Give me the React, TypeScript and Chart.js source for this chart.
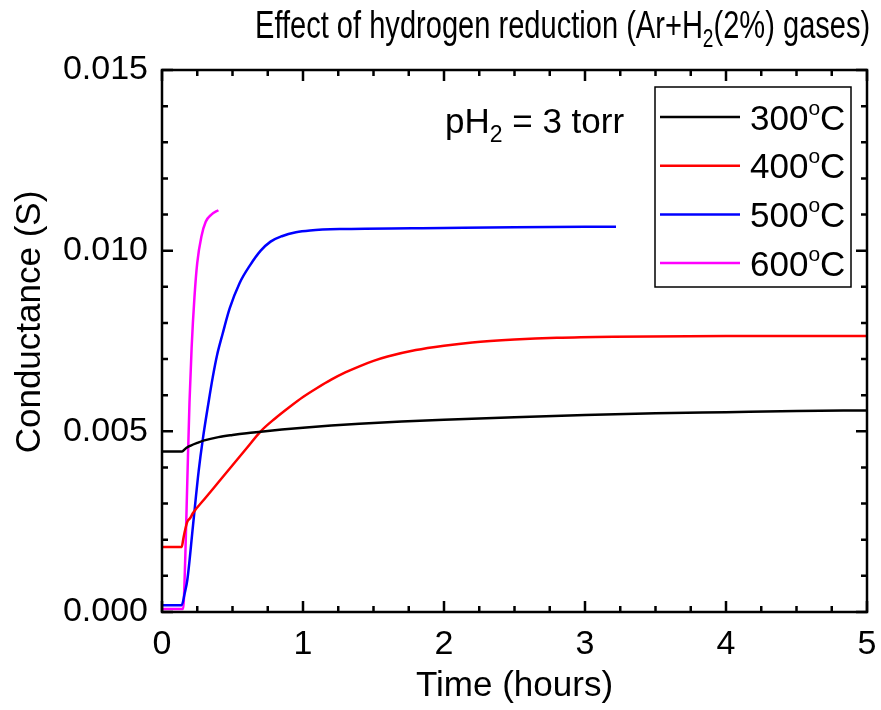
import React, { useEffect, useRef } from "react";
import { Chart, registerables } from "chart.js";

Chart.register(...registerables);

const FONT = "'Liberation Sans', Arial, Helvetica, sans-serif";

const seriesLabels = ["300", "400", "500", "600"];
const seriesColors = ["#000000", "#ff0000", "#0000ff", "#ff00ff"];

const t300 = [0, 0.14, 0.16, 0.18, 0.2, 0.25, 0.3, 0.4, 0.5, 0.6, 0.7, 0.85, 1.0, 1.2, 1.4, 1.7, 2.0, 2.5, 3.0, 3.5, 4.0, 4.5, 5.0];
const g300 = [0.00444, 0.00444, 0.0045, 0.00456, 0.0046, 0.00468, 0.00475, 0.00484, 0.0049, 0.00495, 0.00499, 0.00505, 0.0051, 0.00516, 0.00521, 0.00527, 0.00532, 0.00539, 0.00545, 0.0055, 0.00553, 0.00556, 0.00558];

const t400 = [0, 0.14, 0.15, 0.16, 0.18, 0.2, 0.22, 0.3, 0.4, 0.5, 0.6, 0.7, 0.8, 0.9, 1.0, 1.1, 1.2, 1.3, 1.4, 1.5, 1.6, 1.8, 2.0, 2.2, 2.5, 2.8, 3.2, 4.0, 5.0];
const g400 = [0.0018, 0.0018, 0.002, 0.0022, 0.0025, 0.0026, 0.00274, 0.00312, 0.00359, 0.00406, 0.00453, 0.005, 0.00535, 0.00566, 0.00595, 0.0062, 0.00643, 0.00663, 0.0068, 0.00695, 0.00707, 0.00725, 0.00737, 0.00746, 0.00754, 0.00759, 0.00762, 0.00764, 0.00764];

const t500 = [0, 0.14, 0.16, 0.18, 0.22, 0.26, 0.29, 0.33, 0.36, 0.39, 0.43, 0.48, 0.55, 0.625, 0.7, 0.77, 0.85, 0.95, 1.05, 1.3, 2.0, 2.5, 3.0, 3.22];
const g500 = [0.00019, 0.00019, 0.0005, 0.0009, 0.0024, 0.0039, 0.0048, 0.0058, 0.0065, 0.0071, 0.0077, 0.0084, 0.0091, 0.0096, 0.01, 0.01025, 0.0104, 0.01051, 0.01056, 0.0106, 0.01063, 0.01065, 0.01066, 0.01066];

const t600 = [0, 0.15, 0.165, 0.18, 0.195, 0.21, 0.23, 0.25, 0.28, 0.31, 0.35, 0.4];
const g600 = [0.00008, 0.00008, 0.0015, 0.0037, 0.0058, 0.0073, 0.0087, 0.00966, 0.0104, 0.0108, 0.011, 0.01112];

const seriesT = [t300, t400, t500, t600];
const seriesG = [g300, g400, g500, g600];

const xMin = 0, xMax = 5, xMajor = 1, xMinor = 0.25;
const yMin = 0, yMax = 0.015, yMajor = 0.005, yMinor = 0.001;

const titleMain = "Effect of hydrogen reduction (Ar+H";
const titleSub = "2";
const titleEnd = "(2%) gases)";
const noteMain = "pH";
const noteSub = "2";
const noteEnd = " = 3 torr";
const xTitle = "Time (hours)";
const yTitle = "Conductance (S)";

const decorPlugin = {
  id: "decor",
  afterDraw(chart: any) {
    const ctx = chart.ctx as CanvasRenderingContext2D;
    const a = chart.chartArea;
    const xs = chart.scales.x;
    const ys = chart.scales.y;
    ctx.save();
    ctx.strokeStyle = "#000";
    ctx.lineWidth = 2.5;
    ctx.lineCap = "butt";
    const nx = Math.round((xMax - xMin) / xMinor);
    for (let i = 0; i <= nx; i++) {
      const v = xMin + i * xMinor;
      const px = xs.getPixelForValue(v);
      const major = Math.abs(v / xMajor - Math.round(v / xMajor)) < 1e-6;
      const len = major ? 11 : 6;
      ctx.beginPath();
      ctx.moveTo(px, a.bottom);
      ctx.lineTo(px, a.bottom - len);
      ctx.moveTo(px, a.top);
      ctx.lineTo(px, a.top + len);
      ctx.stroke();
    }
    const ny = Math.round((yMax - yMin) / yMinor);
    for (let i = 0; i <= ny; i++) {
      const v = yMin + i * yMinor;
      const py = ys.getPixelForValue(v);
      const major = i % Math.round(yMajor / yMinor) === 0;
      const len = major ? 11 : 6;
      ctx.beginPath();
      ctx.moveTo(a.left, py);
      ctx.lineTo(a.left + len, py);
      ctx.moveTo(a.right, py);
      ctx.lineTo(a.right - len, py);
      ctx.stroke();
    }
    ctx.strokeRect(a.left, a.top, a.right - a.left, a.bottom - a.top);

    ctx.fillStyle = "#000";
    ctx.textBaseline = "alphabetic";
    ctx.textAlign = "left";

    // title (narrow)
    ctx.save();
    ctx.translate(255, 38);
    ctx.scale(0.765, 1);
    ctx.font = `38px ${FONT}`;
    let x = 0;
    ctx.fillText(titleMain, x, 0);
    x += ctx.measureText(titleMain).width;
    ctx.font = `25px ${FONT}`;
    ctx.fillText(titleSub, x, 9);
    x += ctx.measureText(titleSub).width;
    ctx.font = `38px ${FONT}`;
    ctx.fillText(titleEnd, x, 0);
    ctx.restore();

    // y-axis title
    ctx.save();
    ctx.translate(40, 322);
    ctx.rotate(-Math.PI / 2);
    ctx.textAlign = "center";
    ctx.font = `35px ${FONT}`;
    ctx.fillText(yTitle, 0, 0);
    ctx.restore();

    // annotation
    ctx.font = `35px ${FONT}`;
    x = 445;
    ctx.fillText(noteMain, x, 133);
    x += ctx.measureText(noteMain).width;
    ctx.font = `23px ${FONT}`;
    ctx.fillText(noteSub, x, 142);
    x += ctx.measureText(noteSub).width;
    ctx.font = `35px ${FONT}`;
    ctx.fillText(noteEnd, x, 133);

    // legend
    ctx.lineWidth = 1.5;
    ctx.strokeStyle = "#000";
    ctx.strokeRect(655, 87, 196, 200);
    for (let i = 0; i < seriesLabels.length; i++) {
      const ry = 117 + i * 48.7;
      ctx.strokeStyle = seriesColors[i];
      ctx.lineWidth = 2.5;
      ctx.beginPath();
      ctx.moveTo(660, ry);
      ctx.lineTo(740, ry);
      ctx.stroke();
      ctx.font = `35px ${FONT}`;
      let lx = 750;
      const base = ry + 12.5;
      ctx.fillText(seriesLabels[i], lx, base);
      lx += ctx.measureText(seriesLabels[i]).width;
      ctx.font = `21px ${FONT}`;
      ctx.fillText("o", lx, base - 15);
      lx += ctx.measureText("o").width;
      ctx.font = `35px ${FONT}`;
      ctx.fillText("C", lx, base);
    }
    ctx.restore();
  },
};

export default function App() {
  const ref = useRef<HTMLCanvasElement | null>(null);
  useEffect(() => {
    if (!ref.current) return;
    const datasets = seriesLabels.map((lab, i) => ({
      label: lab + "°C",
      data: seriesT[i].map((t, j) => ({ x: t, y: seriesG[i][j] })),
      borderColor: seriesColors[i],
      backgroundColor: seriesColors[i],
      borderWidth: 2.5,
      pointRadius: 0,
      showLine: true,
      cubicInterpolationMode: "monotone" as const,
      fill: false,
    }));
    const chart = new Chart(ref.current, {
      type: "scatter",
      data: { datasets },
      options: {
        animation: false,
        responsive: false,
        maintainAspectRatio: false,
        layout: { padding: { left: 0, right: 14, top: 70, bottom: 0 } },
        plugins: { legend: { display: false }, tooltip: { enabled: false }, title: { display: false } },
        scales: {
          x: {
            type: "linear",
            min: xMin,
            max: xMax,
            afterFit: (s: any) => { s.height = 98; s.paddingLeft = 0; s.paddingRight = 0; },
            grid: { display: false, drawTicks: false },
            border: { display: false },
            ticks: {
              stepSize: xMajor,
              color: "#000",
              font: { family: FONT, size: 34 },
              padding: 12,
              maxRotation: 0,
              callback: (v: any) => String(v),
            },
            title: {
              display: true,
              text: xTitle,
              color: "#000",
              font: { family: FONT, size: 35 },
              padding: { top: 0, bottom: 3 },
            },
          },
          y: {
            type: "linear",
            min: yMin,
            max: yMax,
            afterFit: (s: any) => { s.width = 162; s.paddingTop = 0; s.paddingBottom = 0; },
            grid: { display: false, drawTicks: false },
            border: { display: false },
            ticks: {
              stepSize: yMajor,
              color: "#000",
              font: { family: FONT, size: 34 },
              padding: 14,
              callback: (v: any) => Number(v).toFixed(3),
            },
            title: { display: false },
          },
        },
      },
      plugins: [decorPlugin],
    });
    return () => chart.destroy();
  }, []);
  return (
    <div style={{ position: "fixed", left: 0, top: 0, width: 881, height: 710, background: "#fff" }}>
      <canvas ref={ref} width={881} height={710} style={{ width: 881, height: 710 }} />
    </div>
  );
}
